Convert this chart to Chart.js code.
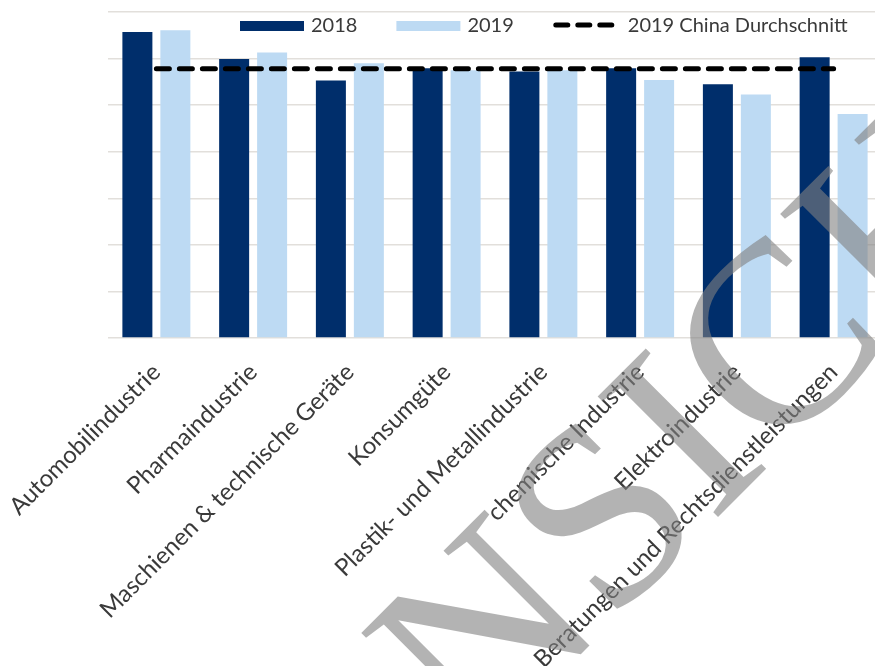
<!DOCTYPE html>
<html>
<head>
<meta charset="utf-8">
<script src="https://cdn.jsdelivr.net/npm/chart.js@4.4.1/dist/chart.umd.min.js"></script>
<style>
  html, body { margin: 0; padding: 0; background: #fff; overflow: hidden; }
  #wrap { width: 890px; height: 666px; position: relative; }
</style>
</head>
<body>
<div id="wrap"><canvas id="grafico-branchen"></canvas></div>
<script>
// Branchen (x-Achse)
const branchen = [
  'Automobilindustrie',
  'Pharmaindustrie',
  'Maschienen & technische Geräte',
  'Konsumgüte',
  'Plastik- und Metallindustrie',
  'chemische Industrie',
  'Elektroindustrie',
  'Beratungen und Rechtsdienstleistungen'
];

// Werte pro Jahr (Einheit = Gitterlinienabstand)
const werte2018 = [6.57, 5.99, 5.53, 5.79, 5.72, 5.79, 5.45, 6.03];
const werte2019 = [6.61, 6.13, 5.90, 5.75, 5.75, 5.54, 5.23, 4.81];
const chinaDurchschnitt2019 = [5.78, 5.78, 5.78, 5.78, 5.78, 5.78, 5.78, 5.78];

// y-Achse (keine Beschriftung sichtbar, nur Gitterlinien)
const yMin = 0;
const yMax = 7;
const yStep = 1;

const dunkelblau = '#002e6b';
const hellblau = '#bddaf3';
const textFarbe = '#3a3a3a';

// Legende oben im Diagrammbereich
const legendePlugin = {
  id: 'legendeOben',
  afterDraw(chart) {
    const ctx = chart.ctx;
    ctx.save();
    ctx.font = '20px Lato';
    ctx.textBaseline = 'middle';
    let x = 240;
    const y = 26;
    chart.data.datasets.forEach(function (ds) {
      let textX;
      if (ds.type === 'line') {
        ctx.strokeStyle = ds.borderColor;
        ctx.lineWidth = ds.borderWidth;
        ctx.lineCap = 'round';
        ctx.setLineDash([12, 10]);
        ctx.beginPath();
        ctx.moveTo(x + 3, y - 1);
        ctx.lineTo(x + 62, y - 1);
        ctx.stroke();
        ctx.setLineDash([]);
        textX = x + 75;
      } else {
        ctx.fillStyle = ds.backgroundColor;
        ctx.fillRect(x, y - 5, 64, 10);
        textX = x + 71;
      }
      ctx.fillStyle = textFarbe;
      ctx.fillText(ds.label, textX, y);
      x = textX + ctx.measureText(ds.label).width + 39;
    });
    ctx.restore();
  }
};

// Wasserzeichen
const wasserzeichenPlugin = {
  id: 'wasserzeichen',
  afterDraw(chart) {
    const ctx = chart.ctx;
    ctx.save();
    ctx.font = '260px "Liberation Serif"';
    ctx.fillStyle = 'rgba(128,128,128,0.6)';
    ctx.textBaseline = 'alphabetic';
    ctx.translate(742, 493);
    ctx.rotate(-Math.PI / 4);
    const x0 = -(ctx.measureText('NS').width + ctx.measureText('I').width / 2);
    ctx.fillText('NSICH', x0, 0);
    ctx.restore();
  }
};

const ctx = document.getElementById('grafico-branchen');
new Chart(ctx, {
  type: 'bar',
  data: {
    labels: branchen,
    datasets: [
      {
        label: '2018',
        data: werte2018,
        backgroundColor: dunkelblau,
        order: 1
      },
      {
        label: '2019',
        data: werte2019,
        backgroundColor: hellblau,
        order: 1
      },
      {
        type: 'line',
        label: '2019 China Durchschnitt',
        data: chinaDurchschnitt2019,
        borderColor: '#000000',
        borderWidth: 5,
        borderDash: [13, 10],
        borderCapStyle: 'round',
        pointRadius: 0,
        fill: false,
        order: 0
      }
    ]
  },
  options: {
    responsive: true,
    maintainAspectRatio: false,
    animation: false,
    layout: { padding: { top: 12, right: 8, left: 0, bottom: 0 } },
    datasets: {
      bar: { categoryPercentage: 0.785, barPercentage: 0.79 }
    },
    plugins: {
      legend: { display: false },
      tooltip: { enabled: false }
    },
    scales: {
      x: {
        grid: { display: false, drawTicks: false },
        border: { display: false },
        ticks: {
          autoSkip: false,
          minRotation: 45,
          maxRotation: 45,
          padding: 20,
          color: textFarbe,
          font: { family: 'Lato', size: 24 }
        },
        afterFit: function (scale) {
          scale.height = 328;
          scale.paddingLeft = 0;
          scale.paddingRight = 0;
        }
      },
      y: {
        min: yMin,
        max: yMax,
        ticks: { display: false, stepSize: yStep },
        grid: { color: '#e2dfdb', lineWidth: 1.5, drawTicks: false },
        border: { display: false },
        afterFit: function (scale) {
          scale.width = 108;
        }
      }
    }
  },
  plugins: [legendePlugin, wasserzeichenPlugin]
});
</script>
</body>
</html>
